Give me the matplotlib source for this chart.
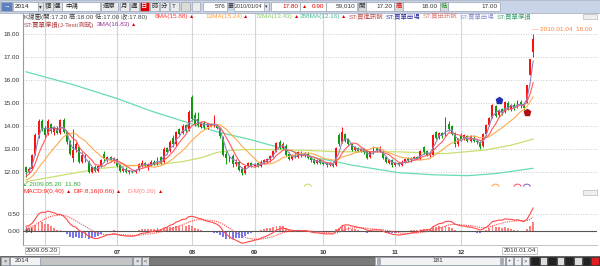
import numpy as np
import pandas as pd
import matplotlib
matplotlib.use("Agg")
import matplotlib.pyplot as plt
from matplotlib.patches import Rectangle, Arc

plt.rcParams['font.family'] = ['Liberation Sans', 'Noto Sans CJK TC', 'DejaVu Sans']

W, H = 600, 266

# ---- data (2014 中鴻, daily, 2009.05.20 - 2010.01.04) ----
pre_close = [11.30, 11.35, 11.30, 11.40, 11.45, 11.40, 11.50, 11.55, 11.50, 11.60,
             11.65, 11.60, 11.70, 11.80, 11.85, 11.95]

opens = [12.20, 12.00, 12.15, 12.80, 13.60, 14.20, 13.90, 13.65, 14.10, 13.75,
         13.90, 13.70, 14.25, 13.75, 13.30, 12.60, 12.95, 13.10, 12.45, 12.75,
         12.45, 12.00, 12.20, 12.05, 12.25, 12.80, 12.55, 12.65, 12.50, 12.55,
         12.30, 12.05, 12.15, 12.00, 12.05, 12.00, 12.10, 12.30, 12.40, 12.25,
         12.30, 12.45, 12.35, 12.65, 12.45, 13.05, 12.90, 13.50, 13.20, 13.85,
         13.70, 14.05, 13.85, 15.25, 14.50, 14.30, 13.95, 14.15, 13.95, 14.00,
         14.00, 14.05, 13.90, 13.50, 12.80, 12.50, 12.70, 12.35, 12.45, 12.15,
         11.95, 12.25, 12.40, 12.25, 12.40, 12.25, 12.40, 12.45, 12.55, 12.70,
         12.90, 13.30, 13.05, 13.15, 12.80, 12.55, 12.75, 12.65, 12.85, 12.70,
         12.80, 12.65, 12.55, 12.40, 12.50, 12.45, 12.40, 12.30, 12.40, 12.30,
         13.60, 13.30, 13.65, 13.45, 13.20, 12.95, 13.05, 12.90, 13.00, 12.90,
         12.65, 12.85, 13.05, 12.90, 12.85, 12.65, 12.40, 12.50, 12.30, 12.40,
         12.30, 12.45, 12.60, 12.50, 12.55, 12.65, 12.55, 13.10, 12.90, 12.75,
         12.75, 13.75, 13.50, 13.70, 13.60, 14.10, 14.00, 13.70, 13.20, 13.55,
         13.45, 13.55, 13.35, 13.50, 13.35, 13.30, 13.15, 13.65, 14.05, 14.40,
         14.85, 14.50, 14.75, 14.60, 15.00, 14.75, 14.90, 14.85, 15.05, 14.90,
         15.05, 16.20, 17.20]
highs = [12.25, 12.20, 12.80, 13.70, 14.30, 14.30, 14.00, 14.30, 14.15, 14.00,
         14.00, 14.30, 14.35, 13.80, 13.40, 13.85, 13.30, 13.15, 12.85, 12.80,
         12.50, 12.25, 12.30, 12.30, 12.55, 12.90, 12.70, 12.70, 12.65, 12.60,
         12.35, 12.20, 12.20, 12.10, 12.10, 12.15, 12.40, 12.50, 12.45, 12.40,
         12.50, 12.50, 12.65, 12.70, 13.10, 13.10, 13.40, 13.60, 13.80, 13.90,
         14.10, 14.10, 14.70, 15.35, 14.60, 14.60, 14.20, 14.20, 14.15, 14.15,
         14.50, 14.10, 13.95, 13.55, 12.90, 12.75, 12.80, 12.55, 12.50, 12.20,
         12.30, 12.45, 12.45, 12.40, 12.45, 12.50, 12.55, 12.60, 12.75, 12.95,
         13.30, 13.40, 13.30, 13.20, 12.85, 12.80, 12.85, 12.90, 12.90, 12.85,
         12.85, 12.70, 12.60, 12.55, 12.55, 12.50, 12.45, 12.45, 12.45, 13.10,
         13.70, 13.95, 13.70, 13.50, 13.25, 13.15, 13.10, 13.05, 13.05, 12.95,
         12.90, 13.15, 13.10, 13.15, 12.90, 12.70, 12.55, 12.55, 12.45, 12.45,
         12.50, 12.60, 12.65, 12.65, 12.70, 12.70, 12.95, 13.15, 12.95, 12.90,
         13.65, 13.80, 13.75, 13.75, 14.40, 14.20, 14.05, 13.75, 13.50, 13.70,
         13.65, 13.60, 13.60, 13.60, 13.45, 13.35, 13.70, 14.10, 14.40, 14.95,
         14.90, 14.75, 14.80, 15.10, 15.10, 14.95, 15.00, 15.15, 15.15, 14.95,
         15.80, 16.90, 18.00]
lows = [11.80, 11.95, 12.10, 12.75, 13.50, 13.80, 13.50, 13.60, 13.70, 13.60,
        13.65, 13.65, 13.70, 13.20, 12.75, 12.45, 12.85, 12.40, 12.40, 12.45,
        11.95, 11.95, 12.00, 12.00, 12.20, 12.45, 12.45, 12.45, 12.40, 12.20,
        12.00, 12.00, 11.95, 11.90, 11.95, 11.95, 12.05, 12.20, 12.20, 12.10,
        12.25, 12.30, 12.30, 12.35, 12.40, 12.80, 12.85, 13.10, 13.15, 13.60,
        13.65, 13.75, 13.80, 14.20, 14.00, 13.95, 13.90, 13.85, 13.85, 13.95,
        13.95, 13.85, 13.50, 12.70, 12.35, 12.45, 12.20, 12.25, 12.05, 11.85,
        11.90, 12.20, 12.20, 12.20, 12.20, 12.20, 12.35, 12.40, 12.45, 12.65,
        12.85, 13.00, 13.00, 12.70, 12.50, 12.50, 12.60, 12.60, 12.65, 12.65,
        12.55, 12.45, 12.35, 12.35, 12.35, 12.30, 12.20, 12.25, 12.20, 12.25,
        13.15, 13.25, 13.30, 13.15, 12.90, 12.90, 12.85, 12.85, 12.80, 12.55,
        12.60, 12.80, 12.85, 12.85, 12.55, 12.40, 12.35, 12.20, 12.25, 12.25,
        12.25, 12.40, 12.45, 12.45, 12.50, 12.50, 12.50, 12.80, 12.70, 12.65,
        12.70, 13.45, 13.45, 13.50, 13.55, 13.80, 13.60, 13.10, 13.15, 13.35,
        13.40, 13.30, 13.30, 13.30, 13.20, 13.00, 13.10, 13.60, 14.00, 14.35,
        14.40, 14.40, 14.50, 14.55, 14.70, 14.65, 14.70, 14.80, 14.80, 14.70,
        15.00, 16.20, 17.00]
closes = [12.00, 12.15, 12.75, 13.60, 14.20, 13.90, 13.60, 14.20, 13.80, 13.90,
          13.70, 14.25, 13.75, 13.30, 12.80, 12.95, 13.20, 12.45, 12.75, 12.55,
          12.00, 12.20, 12.05, 12.25, 12.50, 12.55, 12.65, 12.50, 12.60, 12.25,
          12.05, 12.15, 12.00, 12.05, 12.00, 12.10, 12.35, 12.40, 12.25, 12.30,
          12.45, 12.35, 12.60, 12.40, 13.00, 12.85, 13.30, 13.20, 13.75, 13.65,
          14.00, 13.80, 14.60, 14.30, 14.10, 14.05, 14.15, 13.95, 14.10, 14.10,
          14.05, 13.90, 13.55, 12.75, 12.60, 12.70, 12.35, 12.45, 12.10, 11.95,
          12.25, 12.40, 12.25, 12.35, 12.25, 12.45, 12.50, 12.55, 12.70, 12.90,
          13.25, 13.05, 13.20, 12.75, 12.55, 12.75, 12.65, 12.85, 12.70, 12.80,
          12.60, 12.50, 12.40, 12.50, 12.40, 12.35, 12.30, 12.40, 12.25, 13.05,
          13.20, 13.75, 13.35, 13.20, 12.95, 13.10, 12.90, 13.00, 12.85, 12.60,
          12.85, 13.05, 12.90, 13.00, 12.60, 12.45, 12.50, 12.30, 12.40, 12.30,
          12.45, 12.55, 12.50, 12.60, 12.65, 12.55, 12.90, 12.85, 12.75, 12.80,
          13.60, 13.50, 13.70, 13.55, 14.00, 13.85, 13.65, 13.20, 13.45, 13.40,
          13.60, 13.35, 13.55, 13.35, 13.30, 13.10, 13.65, 14.05, 14.35, 14.90,
          14.45, 14.70, 14.55, 15.05, 14.75, 14.90, 14.80, 15.10, 14.90, 14.80,
          15.80, 16.90, 17.80]

# long averages (bar index, value)
ma72_idx = [0, 24, 34, 40, 50, 56, 61, 66, 72, 82, 93, 99, 118, 134, 147, 155, 162]
ma72_val = [11.58, 12.16, 12.28, 12.30, 12.45, 12.62, 12.85, 12.95, 12.98, 12.97,
            12.92, 12.88, 12.88, 12.80, 12.96, 13.17, 13.43]
ma288_idx = [0, 15, 29, 40, 49, 61, 72, 82, 93, 99, 104, 119, 130, 141, 150, 162]
ma288_val = [16.36, 15.80, 15.20, 14.65, 14.26, 13.75, 13.40, 13.02, 12.60, 12.45,
             12.30, 11.97, 11.88, 11.84, 11.93, 12.16]

month_idx = [6, 29, 53, 73, 95, 118, 139]
month_lbl = ["06", "07", "08", "09", "10", "11", "12"]
first_date = "2009.05.20"
last_date = "2010.01.04"

signal_idx = [151, 160]
signal_price = [15.15, 14.60]
signal_color = ["#2030B0", "#B01010"]

cross_idx = [90, 150, 157, 160]
cross_color = ["#C8E070", "#FFB050", "#FF6070", "#9966CC"]

# ---- indicators ----
n_pre = len(pre_close)
allc = pd.Series(pre_close + closes)
ma3 = allc.rolling(3).mean().values[n_pre:]
ma6 = allc.rolling(6).mean().values[n_pre:]
ma13 = allc.rolling(13).mean().values[n_pre:]
dif_s = allc.ewm(span=8, adjust=False).mean() - allc.ewm(span=16, adjust=False).mean()
macd_s = dif_s.ewm(span=9, adjust=False).mean()
dif = dif_s.values[n_pre:]
macd = macd_s.values[n_pre:]
dm = dif - macd

x = np.arange(len(closes))
o = np.array(opens); c = np.array(closes)
hi = np.array(highs); lo = np.array(lows)
up = c >= o
col = np.where(up, "#FF1010", "#119911")


def rect(x0, y0, x1, y1):
    return [x0 / W, 1 - y1 / H, (x1 - x0) / W, (y1 - y0) / H]


fig = plt.figure(figsize=(6, 2.66), dpi=100)
fig.patch.set_facecolor("white")

XL = (-0.96, 182.4)
FS = 4.6

# ---- price panel ----
ax = fig.add_axes(rect(23, 12, 597, 189))
ax.set_xlim(*XL)
ax.set_ylim(11.26, 18.96)
ax.set_yticks(range(12, 19))
ax.set_yticklabels(["%.2f" % v for v in range(12, 19)], fontsize=FS, color="#333333")
ax.set_xticks([])
ax.tick_params(axis="y", length=0, pad=2.2)
ax.yaxis.grid(True, ls=(0, (1, 2)), color="#BBBBBB", lw=0.6)
ax.vlines(month_idx, 11.26, 18.96, color="#D6D6D6", lw=0.8, zorder=0)
for s in ["top", "right"]:
    ax.spines[s].set_visible(False)
ax.spines["left"].set_color("#999999")
ax.spines["bottom"].set_color("#CCCCCC")
ax.spines["left"].set_linewidth(0.8)
ax.spines["bottom"].set_linewidth(0.6)

ax.plot(ma288_idx, ma288_val, color="#66DDB0", lw=0.9, zorder=2)
ax.plot(ma72_idx, ma72_val, color="#C8E070", lw=0.9, zorder=2)

ax.vlines(x, lo, hi, color=col, lw=0.7, zorder=3)
body = np.maximum(np.abs(c - o), 0.02)
ax.bar(x, body, bottom=np.minimum(o, c), width=0.62, color=col, lw=0, zorder=4)

ax.plot(x, ma13, color="#FFAA50", lw=0.8, zorder=5)
ax.plot(x, ma6, color="#FF5A5A", lw=0.8, zorder=5)
ax.plot(x, ma3, color="#8C86C0", lw=0.8, zorder=5)

for i, p, cc in zip(signal_idx, signal_price, signal_color):
    ax.plot(i, p, marker="p", ms=4.5, color=cc, mec=cc, zorder=6)

for i, cc in zip(cross_idx, cross_color):
    ax.add_patch(Arc((i, 11.36), 2.2, 0.22, theta1=0, theta2=180, color=cc, lw=0.8,
                     clip_on=False, zorder=6))

ihi = int(np.argmax(hi))
ax.annotate("\u2014 %s  %.2f" % (last_date, hi[ihi]), xy=(ihi, hi[ihi]),
            xytext=(-0.5, 3), textcoords="offset points", fontsize=FS,
            color="#FF7F3A", ha="left", va="center")
ilo = int(np.argmin(lo))
ax.annotate("\u2199%s  %.2f" % (first_date, lo[ilo]), xy=(ilo, lo[ilo]),
            xytext=(-2, -5.8), textcoords="offset points", fontsize=FS,
            color="#33AA33", ha="left", va="center", annotation_clip=False)

# ---- MACD panel ----
ax2 = fig.add_axes(rect(23, 189, 597, 245))
ax2.set_xlim(*XL)
ax2.set_ylim(-0.436, 1.271)
ax2.set_yticks([0.0, 0.5])
ax2.set_yticklabels(["0.00", "0.50"], fontsize=FS, color="#333333")
ax2.tick_params(axis="y", length=0, pad=2.2)
ax2.tick_params(axis="x", length=0, pad=3.5)
ax2.set_xticks(month_idx[1:])
ax2.set_xticklabels(month_lbl[1:], fontsize=FS, color="#333333", fontweight="bold")
ax2.axhline(0.5, ls=(0, (1, 2)), color="#BBBBBB", lw=0.6, zorder=0)
ax2.vlines(month_idx, -0.436, 1.271, color="#D6D6D6", lw=0.8, zorder=0)
for s in ["top", "right"]:
    ax2.spines[s].set_visible(False)
ax2.spines["left"].set_color("#999999")
ax2.spines["bottom"].set_color("#BBBBBB")
ax2.spines["left"].set_linewidth(0.8)
ax2.spines["bottom"].set_linewidth(0.6)

ax2.bar(x, dm, width=0.6, color=np.where(dm >= 0, "#FF7F7F", "#7A7AF0"), lw=0, zorder=2)
ax2.axhline(0, color="#555555", lw=0.8, zorder=3)
ax2.plot(x, dif, color="#FF4848", lw=0.8, zorder=4)
ax2.plot(x, macd, color="#FF4848", lw=0.8, ls=(0, (1, 1)), zorder=4)
ax2.text(0.004, 0.0, "[0]", transform=ax2.get_yaxis_transform(), fontsize=FS,
         color="#333333", va="center", ha="left", zorder=5)

box = dict(boxstyle="square,pad=0.15", fc="white", ec="#BBBBBB", lw=0.6)
ax2.text(0, -0.1, first_date, transform=ax2.get_xaxis_transform(), fontsize=FS,
         color="#333333", ha="left", va="center", bbox=box, clip_on=False)
ax2.text(len(closes) - 1 + 0.8, -0.1, last_date, transform=ax2.get_xaxis_transform(),
         fontsize=FS, color="#333333", ha="right", va="center", bbox=box, clip_on=False)

# ---- chrome overlay (toolbar, legends, scroll bar) ----
ov = fig.add_axes([0, 0, 1, 1], zorder=10)
ov.set_xlim(0, W)
ov.set_ylim(H, 0)
ov.axis("off")
ov.patch.set_visible(False)


def pbox(x0, y0, x1, y1, fc, ec="#9AA4B4", lw=0.5):
    ov.add_patch(Rectangle((x0, y0), x1 - x0, y1 - y0, fc=fc, ec=ec, lw=lw))


def ptxt(xx, yy, s, color="#333333", ha="left", fs=FS, **kw):
    return ov.text(xx, yy, s, color=color, ha=ha, va="center", fontsize=fs, **kw)


def legend_item(xx, yy, s, color, tri=True):
    t = ptxt(xx, yy, s, color=color)
    if tri:
        ov.annotate("\u25B2", xy=(1, 0.5), xycoords=t, xytext=(0.6, 0),
                    textcoords="offset points", ha="left", va="center",
                    color="#E00000", fontsize=3.8)
    return t


# toolbar
pbox(0, 0, 600, 12.5, "#C9D4E8", ec="#A0A8B8")
pbox(1, 1.5, 12, 11, "#5B80BC")
ptxt(6.5, 6.2, "\u2192", color="white", ha="center", fontweight="bold")
pbox(13, 1.5, 38, 11, "white")
ptxt(15, 6.2, "2014", color="#1a1a1a")
pbox(38, 1.5, 43, 11, "#E4E4E4")
ptxt(40.5, 6.2, "\u25BE", ha="center", fs=4)
pbox(43, 1.5, 52.5, 11, "#E4E4E4")
ptxt(47.8, 6.2, "精", ha="center")
pbox(52.5, 1.5, 62, 11, "#E4E4E4")
ptxt(57.3, 6.2, "選", ha="center")
pbox(62, 1.5, 100, 11, "white")
ptxt(65, 6.2, "中鴻", color="#1a1a1a")
pbox(101, 1.5, 118, 11, "#ECECEC")
ptxt(109.5, 6.2, "還原", ha="center")
for k, s in enumerate(["月", "週", "日", "時", "分", "T"]):
    x0 = 120 + 10 * k
    if s == "日":
        pbox(x0, 1.5, x0 + 8.5, 11, "#E00000")
        ptxt(x0 + 4.25, 6.2, s, color="white", ha="center")
    else:
        pbox(x0, 1.5, x0 + 8.5, 11, "#ECECEC")
        ptxt(x0 + 4.25, 6.2, s, ha="center")
pbox(181, 2, 190, 10.5, "#DCDCD4")
pbox(192, 2, 200, 10.5, "#ECECEC")
pbox(203, 1.5, 227, 11, "white")
ptxt(225.5, 6.2, "576", ha="right")
ptxt(228, 6.2, "筆", fs=4.2)
pbox(234, 1.5, 269, 11, "white")
ptxt(234.8, 6.2, "2010/01/04", fs=3.9)
pbox(264, 2, 269, 10.5, "#E4E4E4")
ptxt(266.5, 6.2, "\u25BE", ha="center", fs=3.4)
pbox(271, 1.5, 300, 11, "white")
ptxt(298, 6.2, "17.80", color="#E00000", ha="right")
pbox(300, 1.5, 326, 11, "white")
ptxt(302, 6.2, "\u25B2", color="#E00000", fs=3.8)
ptxt(324, 6.2, "0.90", color="#E00000", ha="right")
pbox(326, 1.5, 357, 11, "white")
ptxt(355, 6.2, "59,010", ha="right")
pbox(358, 1.5, 366, 11, "#D8D8D8")
ptxt(362, 6.2, "開", ha="center")
pbox(366, 1.5, 394, 11, "white")
ptxt(392, 6.2, "17.20", ha="right")
pbox(394, 1.5, 403, 11, "#D8D8D8")
ptxt(398.5, 6.2, "高", color="#E00000", ha="center")
pbox(403, 1.5, 440, 11, "white")
ptxt(438, 6.2, "18.00", ha="right")
pbox(440, 1.5, 448, 11, "#D8D8D8")
ptxt(444, 6.2, "低", color="#119911", ha="center")
pbox(448, 1.5, 500, 11, "white")
ptxt(498, 6.2, "17.00", ha="right")

# legend rows
ptxt(24, 16.5, "K線圖(開:17.20 高:18.00 低:17.00 收:17.80)", color="#444444")
leg1 = [(155, "6MA(15.88)", "#FF3A3A"), (205, "13MA(15.24)", "#FFA040"),
        (256, "72MA(13.43)", "#88CC66"), (300, "288MA(12.16)", "#44BB99")]
for xx, s, cc in leg1:
    legend_item(xx, 16.5, s, cc)
leg_st = [(349, "ST:買進訊號", "#C05050"), (386, "ST:買單出場", "#3030A0"),
          (423, "ST:賣出訊號", "#D88080"), (460, "ST:賣單出場", "#9090D0"),
          (497, "ST:買單停損", "#40A070")]
for xx, s, cc in leg_st:
    ptxt(xx, 16.5, s, color=cc)
pbox(583, 13.5, 597, 18.5, "#EEEEEE", ec="#BBBBBB")
ptxt(24, 24.5, "ST:賣單停損(J-Test/測試)", color="#B04040")
legend_item(97, 24.5, "3MA(16.83)", "#993399")

legend_item(24, 191.5, "MACD:9(0.40)", "#FF2020")
legend_item(74, 191.5, "DIF:8,16(0.66)", "#FF2020")
legend_item(128, 191.5, "D-M(0.26)", "#FF7F7F")
pbox(583, 189.5, 597, 194.5, "#EEEEEE", ec="#BBBBBB")

# bottom scroll bar
pbox(0, 256, 600, 266, "#4A4A4A", ec="#4A4A4A")
pbox(1, 257, 9, 265, "#D8D8D8")
ptxt(5, 261, "\u00D7", ha="center", fs=4)
pbox(10, 257, 40, 265, "#F2F2F2")
ptxt(15, 261, "2014")
pbox(40, 257, 132, 265, "#C4C4C4")
pbox(133, 257, 141, 265, "#E0E0E0")
ptxt(137, 261, "\u00D7", ha="center", fs=4)
pbox(142, 257, 149, 265, "#E0E0E0")
ptxt(145.5, 261, "<", ha="center", fs=4)
pbox(149, 257, 375, 265, "#7A7A7A", ec="#666666")
pbox(375, 257, 505, 265, "#F2F2F2")
pbox(377, 258, 380, 264, "#AAAAAA")
pbox(500, 258, 503, 264, "#AAAAAA")
ptxt(438, 261, "181", ha="center")
for k, s in enumerate(["+", "-", ">"]):
    pbox(506 + 8 * k, 257, 513 + 8 * k, 265, "#F0F0F0")
    ptxt(509.5 + 8 * k, 261, s, ha="center", fs=4)
for k in range(8):
    fc = "#E02020" if k == 7 else ("#222222" if k % 2 == 0 else "#DDDDDD")
    pbox(531 + 8.6 * k, 257, 538.5 + 8.6 * k, 265, fc, ec="#333333")

fig.savefig("out.png", dpi=100, facecolor="white")
